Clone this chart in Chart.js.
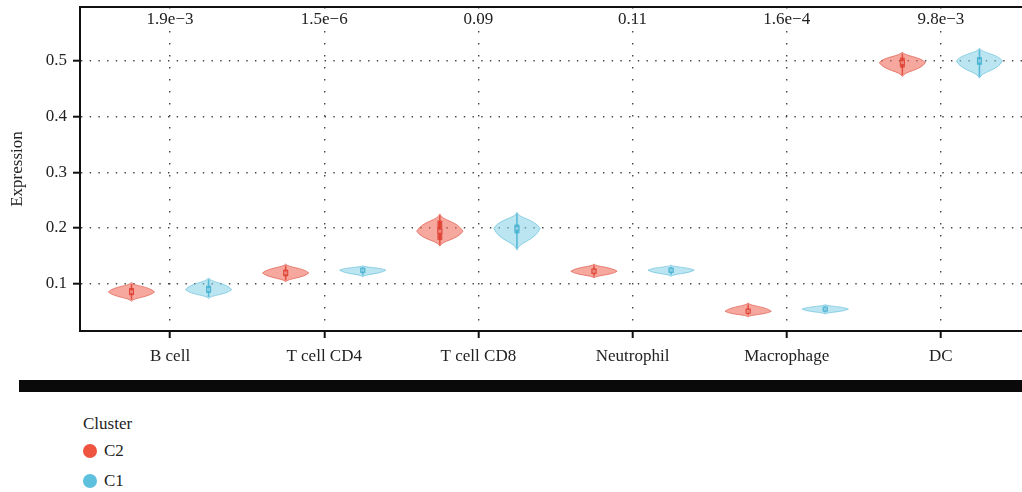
<!DOCTYPE html>
<html>
<head>
<meta charset="utf-8">
<script src="https://cdn.jsdelivr.net/npm/chart.js@4/dist/chart.umd.min.js"></script>
<style>
  html, body { margin: 0; padding: 0; background: #fff; }
  body { width: 1022px; height: 492px; position: relative; overflow: hidden;
         font-family: "Liberation Serif", "DejaVu Serif", serif; color: #222; }
  #wrap { position: absolute; left: 0; top: 0; width: 1022px; height: 372px; }
  #bar { position: absolute; left: 19px; top: 380px; width: 1003px; height: 12px; background: #0a0a0a; }
  #legend { position: absolute; left: 83px; top: 412px; font-size: 17px; }
  #legend .title { height: 24px; line-height: 24px; }
  #legend .item { position: relative; height: 30px; line-height: 30px; padding-left: 21px; }
  #legend .dot { position: absolute; left: 0; top: 8px; width: 14px; height: 14px; border-radius: 50%; }
</style>
</head>
<body>
<div id="wrap"><canvas id="violins"></canvas></div>
<div id="bar"></div>
<div id="legend">
  <div class="title">Cluster</div>
  <div class="item"><span class="dot" style="background:#EE5440"></span>C2</div>
  <div class="item"><span class="dot" style="background:#5DC0DC"></span>C1</div>
</div>
<script>
const categories = ['B cell', 'T cell CD4', 'T cell CD8', 'Neutrophil', 'Macrophage', 'DC'];
const pLabels = ['1.9e\u22123', '1.5e\u22126', '0.09', '0.11', '1.6e\u22124', '9.8e\u22123'];
const yTicks = [0.1, 0.2, 0.3, 0.4, 0.5];

// C2 cluster, per cell type
const c2Min = [0.068, 0.103, 0.167, 0.110, 0.040, 0.472];
const c2Q1 = [0.079, 0.113, 0.178, 0.117, 0.046, 0.488];
const c2Median = [0.085, 0.119, 0.194, 0.122, 0.050, 0.497];
const c2Q3 = [0.092, 0.125, 0.213, 0.127, 0.055, 0.506];
const c2Max = [0.102, 0.135, 0.225, 0.135, 0.065, 0.516];

// C1 cluster, per cell type
const c1Min = [0.073, 0.112, 0.160, 0.113, 0.045, 0.469];
const c1Q1 = [0.083, 0.119, 0.190, 0.119, 0.050, 0.493];
const c1Median = [0.089, 0.124, 0.199, 0.124, 0.054, 0.500];
const c1Q3 = [0.096, 0.128, 0.206, 0.128, 0.057, 0.507];
const c1Max = [0.110, 0.132, 0.228, 0.133, 0.062, 0.523];

const FONT = 'Liberation Serif';

const groups = [
  { offset: -0.25, min: c2Min, q1: c2Q1, med: c2Median, q3: c2Q3, max: c2Max,
    fill: 'rgba(242,105,88,0.58)', line: 'rgba(222,92,78,0.7)', inner: 'rgba(222,60,45,0.8)' },
  { offset: 0.25, min: c1Min, q1: c1Q1, med: c1Median, q3: c1Q3, max: c1Max,
    fill: 'rgba(130,207,229,0.55)', line: 'rgba(100,190,218,0.65)', inner: 'rgba(70,178,210,0.85)' }
];

// tails are thin near the ends, body bulges out to the widest point
function violinPath(ctx, cx, hw, yTop, yMid, yBot) {
  const dT = yMid - yTop, dB = yBot - yMid;
  ctx.beginPath();
  ctx.moveTo(cx, yTop);
  ctx.bezierCurveTo(cx + hw * 0.1, yTop + dT * 0.4, cx + hw * 0.75, yMid - dT * 0.6, cx + hw, yMid);
  ctx.bezierCurveTo(cx + hw * 0.75, yMid + dB * 0.6, cx + hw * 0.1, yBot - dB * 0.4, cx, yBot);
  ctx.bezierCurveTo(cx - hw * 0.1, yBot - dB * 0.4, cx - hw * 0.75, yMid + dB * 0.6, cx - hw, yMid);
  ctx.bezierCurveTo(cx - hw * 0.75, yMid - dT * 0.6, cx - hw * 0.1, yTop + dT * 0.4, cx, yTop);
  ctx.closePath();
}

const violinPlugin = {
  id: 'violins',
  afterDatasetsDraw(chart) {
    const { ctx, scales: { x, y } } = chart;
    const hw = (x.getPixelForValue(1) - x.getPixelForValue(0)) * 0.15;
    ctx.save();
    groups.forEach(g => {
      categories.forEach((c, i) => {
        const cx = x.getPixelForValue(i + g.offset);
        const yTop = y.getPixelForValue(g.max[i]);
        const yBot = y.getPixelForValue(g.min[i]);
        const yMid = y.getPixelForValue(g.med[i]);
        violinPath(ctx, cx, hw, yTop, yMid, yBot);
        ctx.fillStyle = g.fill;
        ctx.fill();
        ctx.lineWidth = 1;
        ctx.strokeStyle = g.line;
        ctx.stroke();
        // whisker
        ctx.beginPath();
        ctx.moveTo(cx, yTop + 1.5);
        ctx.lineTo(cx, yBot - 1.5);
        ctx.lineWidth = 1.6;
        ctx.strokeStyle = g.inner;
        ctx.stroke();
        // box
        const b1 = y.getPixelForValue(g.q3[i]), b2 = y.getPixelForValue(g.q1[i]);
        ctx.fillStyle = g.inner;
        ctx.fillRect(cx - 2.5, b1, 5, b2 - b1);
        // median
        ctx.fillStyle = 'rgba(255,255,255,0.35)';
        ctx.fillRect(cx - 2, yMid - 2, 4, 4);
        ctx.lineWidth = 1;
        ctx.strokeStyle = g.inner;
        ctx.strokeRect(cx - 2, yMid - 2, 4, 4);
      });
    });
    ctx.restore();
  },
  afterDraw(chart) {
    const { ctx, scales: { x } } = chart;
    ctx.save();
    ctx.font = '17px "' + FONT + '"';
    ctx.fillStyle = '#222';
    ctx.textAlign = 'center';
    ctx.textBaseline = 'middle';
    pLabels.forEach((p, i) => ctx.fillText(p, x.getPixelForValue(i), 20));
    ctx.restore();
  }
};

// drop the label overhang padding so the plot box sits where we put it
function noPad(s) {
  s.paddingTop = 0; s.paddingBottom = 0; s.paddingLeft = 0; s.paddingRight = 0;
}

new Chart(document.getElementById('violins'), {
  type: 'scatter',
  data: { datasets: [] },
  options: {
    responsive: true,
    maintainAspectRatio: false,
    animation: false,
    layout: { padding: 0 },
    plugins: { legend: { display: false }, tooltip: { enabled: false } },
    scales: {
      x: {
        type: 'linear', position: 'bottom',
        min: -0.584, max: 5.526,
        afterBuildTicks: s => { s.ticks = categories.map((c, i) => ({ value: i })); },
        afterFit: s => { s.height = 41; noPad(s); },
        ticks: {
          callback: v => categories[v],
          font: { family: FONT, size: 17 }, color: '#222', padding: 8, maxRotation: 0, autoSkip: false
        },
        grid: { color: '#444', lineWidth: 1.4, tickLength: 7, tickWidth: 2, tickColor: '#111' },
        border: { color: '#111', width: 2, dash: [1.4, 10.6] }
      },
      x2: {
        type: 'linear', position: 'top',
        min: -0.584, max: 5.526,
        afterFit: s => { s.height = 7; noPad(s); },
        ticks: { display: false },
        grid: { display: false },
        border: { color: '#111', width: 2 }
      },
      y: {
        min: 0.0146, max: 0.597,
        afterBuildTicks: s => { s.ticks = yTicks.map(v => ({ value: v })); },
        afterFit: s => { s.width = 80; noPad(s); },
        ticks: {
          callback: v => v.toFixed(1),
          font: { family: FONT, size: 17 }, color: '#222', padding: 6
        },
        title: {
          display: true, text: 'Expression',
          font: { family: FONT, size: 17 }, color: '#222', padding: { top: 7, bottom: 4 }
        },
        grid: { color: '#444', lineWidth: 1.4, tickLength: 7, tickWidth: 2, tickColor: '#111' },
        border: { color: '#111', width: 2, dash: [1.4, 7.3] }
      }
    }
  },
  plugins: [violinPlugin]
});
</script>
</body>
</html>
